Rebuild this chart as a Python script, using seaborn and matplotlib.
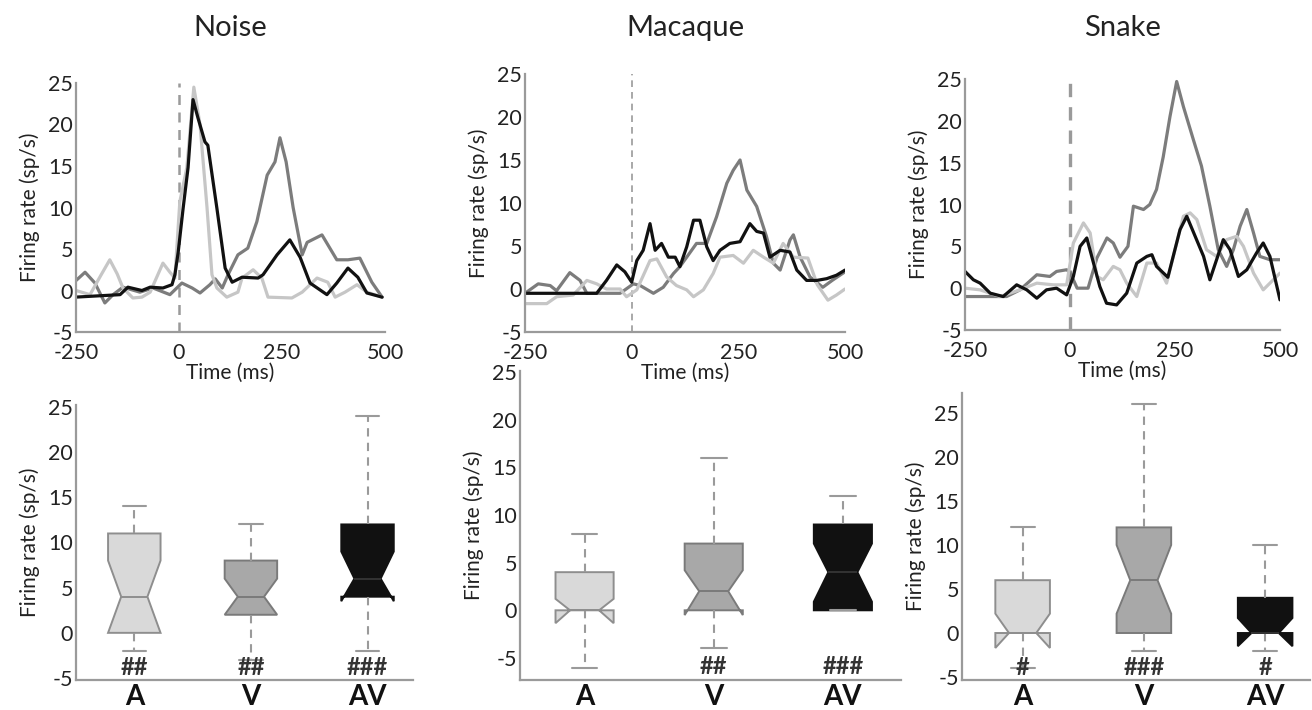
import numpy as np
import pandas as pd
import matplotlib
matplotlib.use("Agg")
import matplotlib.pyplot as plt
import seaborn as sns

# stimuli / conditions
stimuli = ["Noise", "Macaque", "Snake"]
conditions = ["A", "V", "AV"]

# PSTH traces: time (ms) and firing rate (sp/s)
noise_a_t = [-250, -216, -190, -168, -150, -136, -112, -90, -70, -39, -22, -10, 2, 19, 36, 51, 68, 80, 92, 116, 143, 153, 180, 201, 216, 274, 299, 335, 361, 379, 403, 432, 456, 493]
noise_a_v = [0.0, -0.5, 1.8, 3.7, 2.0, 0.3, -0.9, -0.8, -0.2, 3.3, 2.2, 1.5, 10.7, 14.8, 24.5, 20.0, 10.0, 1.9, 0.3, -0.8, -0.2, 1.5, 2.5, 1.5, -0.8, -0.9, -0.2, 1.5, 1.0, -0.8, -0.2, 0.7, -0.2, -0.8]
noise_v_t = [-250, -228, -204, -180, -160, -136, -95, -63, -22, 7, 32, 51, 75, 88, 105, 119, 143, 167, 189, 214, 233, 245, 260, 277, 299, 311, 347, 383, 410, 439, 468, 493]
noise_v_v = [1.2, 2.2, 0.9, -1.5, -0.5, 0.4, -0.2, 0.3, -0.5, 0.9, 0.3, -0.3, 0.7, 1.4, 0.3, 1.9, 4.3, 5.1, 8.3, 13.9, 15.5, 18.4, 15.5, 10.0, 4.3, 5.8, 6.7, 3.7, 3.7, 3.9, 1.0, -0.8]
noise_av_t = [-252, -143, -124, -90, -70, -39, -17, -10, -2, 10, 22, 34, 46, 63, 70, 92, 112, 129, 153, 192, 204, 238, 269, 294, 318, 359, 383, 410, 434, 456, 493]
noise_av_v = [-0.8, -0.5, 0.4, 0.0, 0.4, 0.3, 0.7, 1.9, 4.6, 9.9, 14.8, 23.0, 20.8, 17.9, 17.5, 9.9, 2.7, 1.0, 1.6, 1.5, 1.9, 4.3, 6.1, 4.0, 0.9, -0.5, 0.9, 2.7, 1.6, -0.3, -0.8]

macaque_a_t = [-250, -199, -176, -137, -105, -82, -59, -27, -12, 12, 43, 59, 82, 105, 129, 145, 168, 191, 207, 238, 262, 285, 309, 332, 355, 379, 413, 435, 460, 480, 500]
macaque_a_v = [-1.7, -1.7, -0.9, -0.7, 1.0, 0.6, 0.0, 0.0, -0.9, -0.1, 3.3, 3.5, 1.4, 0.4, -0.1, -0.9, -0.1, 1.8, 3.7, 3.9, 3.0, 4.5, 3.7, 3.0, 5.3, 3.7, 3.6, 0.5, -1.3, -0.7, 0.0]
macaque_v_t = [-250, -219, -191, -176, -145, -121, -105, -27, 4, 20, 51, 74, 98, 113, 129, 152, 176, 199, 223, 238, 254, 270, 293, 316, 332, 348, 371, 379, 395, 418, 448, 470, 500]
macaque_v_v = [-0.5, 0.6, 0.4, -0.2, 1.9, 1.0, -0.5, -0.5, 0.6, 0.4, -0.5, 0.2, 1.8, 2.6, 3.7, 5.3, 5.3, 8.4, 12.3, 13.8, 15.0, 11.5, 9.6, 6.1, 3.0, 2.2, 5.7, 6.3, 3.7, 1.4, 0.2, 1.0, 2.0]
macaque_av_t = [-250, -82, -59, -35, -16, 0, 12, 27, 43, 55, 70, 86, 102, 113, 129, 145, 160, 176, 191, 207, 230, 254, 277, 293, 309, 324, 348, 371, 387, 410, 434, 457, 480, 500]
macaque_av_v = [-0.5, -0.5, 1.0, 2.8, 2.0, 0.8, 3.3, 4.5, 7.6, 4.5, 5.3, 3.7, 3.7, 2.6, 4.9, 8.0, 8.0, 4.9, 3.3, 4.5, 5.3, 5.5, 7.6, 6.7, 6.5, 3.7, 4.5, 4.3, 2.2, 1.0, 1.0, 1.2, 1.6, 2.2]

snake_a_t = [-250, -214, -167, -119, -79, -40, -8, 8, 32, 48, 64, 79, 103, 119, 135, 159, 183, 206, 230, 246, 270, 286, 302, 325, 349, 373, 397, 413, 437, 460, 476, 500]
snake_a_v = [0.0, -0.2, -1.0, -0.2, 0.6, 0.4, 0.4, 5.4, 7.8, 6.6, 1.4, 1.0, 2.6, 2.2, 0.6, -1.0, 3.0, 3.0, 0.6, 3.8, 8.6, 9.0, 8.2, 4.6, 3.8, 5.8, 6.2, 5.0, 1.8, -0.2, 0.6, 1.8]
snake_v_t = [-250, -151, -119, -79, -48, -32, -8, 0, 17, 43, 64, 88, 103, 119, 138, 151, 175, 190, 206, 222, 238, 254, 270, 294, 313, 333, 353, 373, 389, 405, 421, 437, 452, 476, 500]
snake_v_v = [-1.0, -1.0, -0.2, 1.6, 1.4, 2.0, 2.2, 1.9, 0.0, 0.0, 3.6, 6.0, 5.4, 3.7, 5.0, 9.8, 9.4, 10.0, 11.8, 15.7, 20.5, 24.7, 21.7, 17.7, 14.6, 9.8, 4.6, 2.6, 4.6, 7.4, 9.4, 6.6, 3.8, 3.4, 3.4]
snake_av_t = [-250, -230, -214, -190, -159, -127, -103, -79, -56, -32, -8, 8, 24, 40, 56, 71, 87, 111, 135, 159, 183, 195, 206, 233, 262, 278, 298, 318, 333, 349, 365, 381, 401, 421, 444, 460, 476, 500]
snake_av_v = [2.0, 1.0, 0.6, -0.6, -1.0, 0.4, -0.2, -1.2, -0.2, 0.0, -0.8, 1.4, 5.0, 6.0, 3.0, 0.2, -1.8, -2.0, -0.6, 3.0, 3.8, 4.0, 2.6, 1.3, 7.0, 8.6, 6.2, 3.8, 1.0, 3.4, 5.8, 4.6, 1.4, 2.2, 4.2, 5.4, 3.8, -1.4]

# notched box summaries (sp/s), order A, V, AV
noise_q1 = [0, 2, 4]
noise_med = [4, 4, 6]
noise_q3 = [11, 8, 12]
noise_cilo = [0, 2, 3.5]
noise_cihi = [8, 6, 9]
noise_whislo = [-2, -3, -2]
noise_whishi = [14, 12, 24]

macaque_q1 = [0, 0, 0]
macaque_med = [0, 2, 4]
macaque_q3 = [4, 7, 9]
macaque_cilo = [-1.35, -0.5, 0.9]
macaque_cihi = [1.2, 4.2, 7]
macaque_whislo = [-6, -4, 0]
macaque_whishi = [8, 16, 12]

snake_q1 = [0, 0, 0]
snake_med = [0, 6, 0]
snake_q3 = [6, 12, 4]
snake_cilo = [-1.7, 2.2, -1.5]
snake_cihi = [2.2, 10, 1.7]
snake_whislo = [-4, -2, -2]
snake_whishi = [12, 26, 10]

# significance marks under each box
noise_marks = ["##", "##", "###"]
macaque_marks = ["", "##", "###"]
snake_marks = ["#", "###", "#"]

traces = {
    "Noise": {"A": (noise_a_t, noise_a_v), "V": (noise_v_t, noise_v_v), "AV": (noise_av_t, noise_av_v)},
    "Macaque": {"A": (macaque_a_t, macaque_a_v), "V": (macaque_v_t, macaque_v_v), "AV": (macaque_av_t, macaque_av_v)},
    "Snake": {"A": (snake_a_t, snake_a_v), "V": (snake_v_t, snake_v_v), "AV": (snake_av_t, snake_av_v)},
}
boxes = {
    "Noise": (noise_q1, noise_med, noise_q3, noise_cilo, noise_cihi, noise_whislo, noise_whishi, noise_marks),
    "Macaque": (macaque_q1, macaque_med, macaque_q3, macaque_cilo, macaque_cihi, macaque_whislo, macaque_whishi, macaque_marks),
    "Snake": (snake_q1, snake_med, snake_q3, snake_cilo, snake_cihi, snake_whislo, snake_whishi, snake_marks),
}

line_colors = {"A": "#c6c6c6", "V": "#7c7c7c", "AV": "#111111"}
box_face = ["#d9d9d9", "#a8a8a8", "#111111"]
box_edge = ["#8e8e8e", "#7a7a7a", "#111111"]
axis_gray = "#9a9a9a"
text_col = "#222222"

sns.set_theme(style="white")
plt.rcParams["font.family"] = ["Lato", "DejaVu Sans"]
plt.rcParams["axes.unicode_minus"] = False

fig = plt.figure(figsize=(13.12, 7.10), dpi=100)
W, H = 1312, 710


def px_axes(x0, y0, x1, y1):
    return fig.add_axes([x0 / W, 1 - y1 / H, (x1 - x0) / W, (y1 - y0) / H])


top_boxes = [(76, 83, 385, 332), (525, 74, 845, 332), (965, 79, 1280, 330)]
vline_w = [1.8, 1.2, 2.4]
bot_boxes = [(76, 405, 413, 680), (520, 371, 901, 680), (962, 393, 1310, 680)]
bot_ylim = [(-5.22, 25.22), (-7.31, 25.1), (-5.34, 27.27)]
bot_xlim = [(0.5, 3.39), (0.5, 3.45), (0.5, 3.37)]
mark_y = [-3.8, -5.9, -3.9]


def style_axes(ax):
    sns.despine(ax=ax)
    for s in ["left", "bottom"]:
        ax.spines[s].set_color(axis_gray)
        ax.spines[s].set_linewidth(1.6)
    ax.tick_params(axis="both", colors=axis_gray, labelcolor=text_col, labelsize=15.5,
                   direction="in", length=3, width=1, pad=2)


for i, stim in enumerate(stimuli):
    # --- PSTH panel
    ax = px_axes(*top_boxes[i])
    ax.set_zorder(2)
    ax.patch.set_alpha(0)
    rows = []
    for cond in conditions:
        t, v = traces[stim][cond]
        rows.append(pd.DataFrame({"time": t, "rate": v, "cond": cond}))
    df = pd.concat(rows, ignore_index=True)
    ax.axvline(0, color=axis_gray, ls=(0, (4, 3)), lw=vline_w[i], zorder=1)
    sns.lineplot(data=df, x="time", y="rate", hue="cond", hue_order=["V", "A", "AV"],
                 palette=line_colors, estimator=None, sort=False, linewidth=2.3,
                 legend=False, ax=ax)
    ax.set_xlim(-250, 500)
    ax.set_ylim(-5, 25)
    ax.set_xticks([-250, 0, 250, 500])
    ax.set_yticks(np.arange(-5, 26, 5))
    style_axes(ax)
    ax.tick_params(axis="x", pad=8)
    ax.set_xlabel("Time (ms)", fontsize=15, color=text_col, labelpad=0)
    ax.set_ylabel("Firing rate (sp/s)", fontsize=15, color=text_col, labelpad=6)
    x0, _, x1, _ = top_boxes[i]
    fig.text((x0 + x1) / 2 / W, 1 - 28 / H, stim, ha="center", va="center",
             fontsize=21, color=text_col)

    # --- notched box panel
    ax = px_axes(*bot_boxes[i])
    ax.set_zorder(1)
    ax.patch.set_alpha(0)
    q1, med, q3, cilo, cihi, lo, hi, marks = boxes[stim]
    stats = [dict(label=c, q1=q1[k], med=med[k], q3=q3[k], cilo=cilo[k], cihi=cihi[k],
                  whislo=lo[k], whishi=hi[k], fliers=[]) for k, c in enumerate(conditions)]
    art = ax.bxp(stats, positions=[1, 2, 3], widths=0.45, capwidths=0.2,
                 shownotches=True, patch_artist=True, showfliers=False,
                 boxprops=dict(linewidth=1.4),
                 whiskerprops=dict(color=axis_gray, linewidth=1.5, linestyle=(0, (4, 3))),
                 capprops=dict(color=axis_gray, linewidth=1.5),
                 medianprops=dict(linewidth=1.4))
    for k, patch in enumerate(art["boxes"]):
        patch.set_facecolor(box_face[k])
        patch.set_edgecolor(box_edge[k])
        art["medians"][k].set_color(box_edge[k] if k < 2 else "#333333")
    for k, m in enumerate(marks):
        if m:
            ax.text(k + 1, mark_y[i], m, ha="center", va="center", fontsize=17,
                    fontweight="bold", color="#333333")
    ax.set_xlim(*bot_xlim[i])
    ax.set_ylim(*bot_ylim[i])
    ax.set_yticks(np.arange(-5, 26, 5))
    ax.set_xticks([1, 2, 3])
    ax.set_xticklabels(conditions)
    style_axes(ax)
    ax.tick_params(axis="x", length=0, labelsize=20, pad=3)
    for lab in ax.get_xticklabels():
        lab.set_fontweight("bold")
        lab.set_color("#111111")
    ax.set_xlabel("")
    ax.set_ylabel("Firing rate (sp/s)", fontsize=15, color=text_col, labelpad=6)

fig.savefig("out.png", dpi=100, facecolor="white")
